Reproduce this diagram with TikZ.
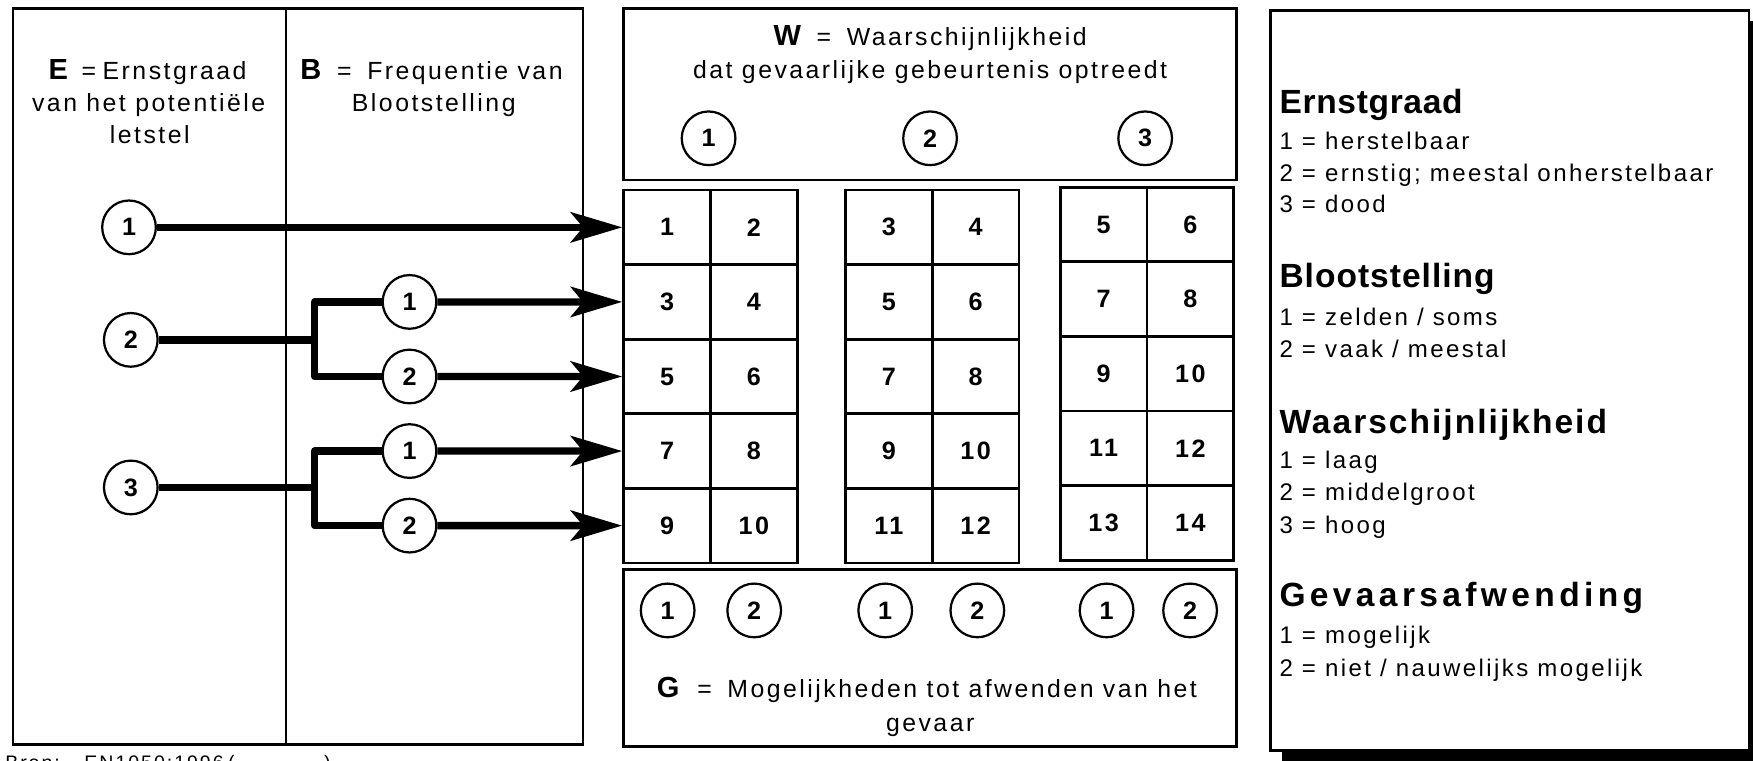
\documentclass[tikz,border=0pt]{standalone}
\usepackage{fontspec}
\setmainfont{Liberation Sans}[LetterSpace=10]
\usetikzlibrary{arrows.meta}
\newcommand\mytxt{\fontsize{22.2}{29}\selectfont}
\newcommand\myitem{\fontsize{21.5}{29}\selectfont}
\newcommand\myhdr{\fontsize{30}{36}\selectfont\bfseries}
\newcommand\mykey{\fontsize{26}{29}\selectfont\bfseries}
\newcommand\track[1]{\addfontfeatures{LetterSpace=#1}}
\begin{document}
\begin{tikzpicture}[x=1pt,y=-1pt,
  frame/.style={draw, line width=2.2pt},
  badge/.style={draw, circle, line width=2pt, minimum size=48pt, inner sep=0pt,
    font=\fontsize{22.5}{22}\selectfont\bfseries},
  cell/.style={draw, line width=2.5pt, minimum width=77.6pt, minimum height=66.7pt,
    inner sep=0pt, font=\fontsize{22.5}{22}\selectfont\bfseries},
  flow/.style={line width=6.5pt, line join=round},
  feed/.style={flow, -{Stealth[length=46pt, width=27pt, inset=11pt]}},
  desc/.style={anchor=base, inner sep=0pt, font=\mytxt},
  item/.style={anchor=base west, inner sep=0pt, font=\myitem},
  head/.style={anchor=base west, inner sep=0pt, font=\myhdr}
]
\useasboundingbox (0,0) rectangle (1568,680);
\clip (0,0) rectangle (1568,680);

% left panel: severity (E) and exposure (B) columns
\draw[frame] (11.5,7.5) rectangle (521.3,665.8);
\draw[frame] (256,7.5) -- (256,665.8);
\node[desc] (etitle) at (132,71) {{\mykey E}\hspace{12pt}=\hspace{6pt}Ernstgraad};
\node[desc] (eline2) at (133,100) {van het potentiële};
\node[desc] (eline3) at (134,128.5) {letstel};
\node[desc] (btitle) at (386,71) {{\mykey B}\hspace{14pt}=\hspace{14pt}Frequentie van};
\node[desc] (bline2) at (388,100) {Blootstelling};

% top panel: probability (W)
\draw[frame] (557.8,7.5) rectangle (1105.9,161);
\node[desc] (wtitle) at (832,41) {{\mykey W}\hspace{14pt}=\hspace{14pt}Waarschijnlijkheid};
\node[desc] (wline2) at (832,70) {dat gevaarlijke gebeurtenis optreedt};
\node[badge] (w1) at (633.8,123.7) {1};
\node[badge] (w2) at (831.9,123.7) {2};
\node[badge] (w3) at (1024.3,123.7) {3};

% three blocks of risk cells
\foreach \g/\gx/\gy/\first in {1/557.8/170/1, 2/756.2/170/3, 3/948.3/167.5/5}
  \foreach \r in {1,...,5}
    \foreach \c in {1,2} {
      \pgfmathtruncatemacro\n{\first+2*(\r-1)+\c-1}
      \node[cell] (g\g-\r-\c) at ({\gx+38.8*(2*\c-1)}, {\gy+33.35*(2*\r-1)}) {\n};
    }

% bottom panel: avoidance (G)
\draw[frame] (557.8,509.2) rectangle (1105.9,667.9);
\node[badge] (ga1) at (597.2,546) {1};
\node[badge] (ga2) at (674.6,546) {2};
\node[badge] (gb1) at (791.8,546) {1};
\node[badge] (gb2) at (874.2,546) {2};
\node[badge] (gc1) at (989.8,546) {1};
\node[badge] (gc2) at (1064.5,546) {2};
\node[desc] (gtitle) at (829,624) {{\mykey G}\hspace{16pt}=\hspace{14pt}Mogelijkheden tot afwenden van het};
\node[desc] (gline2) at (832,654) {gevaar};

% decision tree
\node[badge] (e1) at (115.4,203.35) {1};
\node[badge] (e2) at (117,304) {2};
\node[badge] (e3) at (117,436) {3};
\node[badge] (b21) at (366.3,270.05) {1};
\node[badge] (b22) at (366.3,336.75) {2};
\node[badge] (b31) at (366.3,403.45) {1};
\node[badge] (b32) at (366.3,470.15) {2};
\coordinate (j2) at (281.4,304);
\coordinate (j3) at (281.4,436);

\draw[feed] (e1) -- (g1-1-1.west);
\draw[flow] (e2) -- (j2);
\draw[flow] (b21) -| (j2) |- (b22);
\draw[flow] (e3) -- (j3);
\draw[flow] (b31) -| (j3) |- (b32);
\draw[feed] (b21) -- (g1-2-1.west);
\draw[feed] (b22) -- (g1-3-1.west);
\draw[feed] (b31) -- (g1-4-1.west);
\draw[feed] (b32) -- (g1-5-1.west);

% legend with drop shadow
\fill (1146.5,18.5) rectangle (1574.4,680.4);
\draw[frame, fill=white] (1136.5,9.5) rectangle (1564.4,671.4);
\node[head] (h1) at (1144.3,101.4) {\track{2}Ernstgraad};
\node[item] (h1a) at (1144.3,133.5) {1 = herstelbaar};
\node[item] (h1b) at (1144.3,162) {2 = ernstig; meestal onherstelbaar};
\node[item] (h1c) at (1144.3,190.5) {3 = dood};
\node[head] (h2) at (1144.3,257) {\track{3}Blootstelling};
\node[item] (h2a) at (1144.3,290.7) {1 = zelden / soms};
\node[item] (h2b) at (1144.3,319.6) {2 = vaak / meestal};
\node[head] (h3) at (1144.3,387.6) {\track{6}Waarschijnlijkheid};
\node[item] (h3a) at (1144.3,418.9) {1 = laag};
\node[item] (h3b) at (1144.3,447.6) {2 = middelgroot};
\node[item] (h3c) at (1144.3,477) {3 = hoog};
\node[head] (h4) at (1144.3,542.6) {\track{13}Gevaarsafwending};
\node[item] (h4a) at (1144.3,575.4) {1 = mogelijk};
\node[item] (h4b) at (1144.3,604.7) {2 = niet / nauwelijks mogelijk};

% source line along the lower edge
\node[anchor=base west, inner sep=0pt, font=\fontsize{17.5}{20}\selectfont] (src)
  at (4.5,688) {Bron:\hspace{22pt}EN1050:1996\hspace{4pt}(\hspace{80pt})};
\end{tikzpicture}
\end{document}
